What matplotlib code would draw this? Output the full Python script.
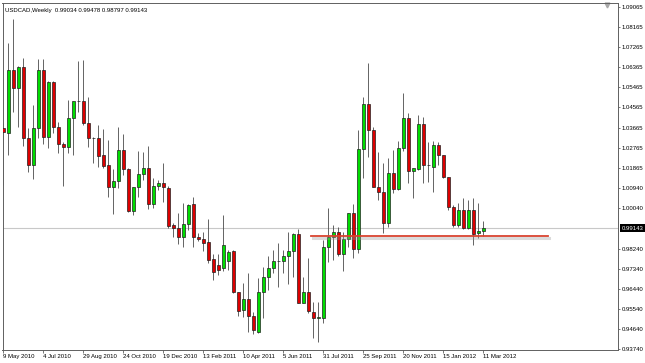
import numpy as np
import matplotlib.pyplot as plt
from matplotlib import patheffects

plt.rcParams['font.family'] = ['Liberation Sans', 'DejaVu Sans']

# weekly USDCAD candles, 9 May 2010 .. 11 Mar 2012
opens = [
    1.0364, 1.0343, 1.0624, 1.0544, 1.0638, 1.0320, 1.0199, 1.0364, 1.0624, 1.0324,
    1.0571, 1.0369, 1.0293, 1.0279, 1.0409, 1.0485, 1.0485, 1.0387, 1.0320, 1.0320,
    1.0243, 1.0199, 1.0100, 1.0127, 1.0266, 1.0181, 0.9992, 1.0100, 1.0158, 1.0185,
    1.0024, 1.0104, 1.0118, 1.0096, 0.9930, 0.9916, 0.9876, 0.9934, 1.0024, 0.9876,
    0.9867, 0.9853, 0.9777, 0.9750, 0.9737, 0.9768, 0.9813, 0.9629, 0.9549, 0.9598,
    0.9522, 0.9450, 0.9629, 0.9697, 0.9737, 0.9768, 0.9768, 0.9791, 0.9813, 0.9889,
    0.9580, 0.9629, 0.9540, 0.9513, 0.9513, 0.9831, 0.9876, 0.9898, 0.9800, 0.9867,
    0.9983, 0.9822, 1.0270, 1.0472, 1.0355, 1.0100, 1.0078, 0.9939, 1.0163, 1.0091,
    1.0275, 1.0409, 1.0172, 1.0181, 1.0382, 1.0199, 1.0190, 1.0288, 1.0243, 1.0145,
    1.0010, 0.9930, 0.9997, 0.9916, 0.9997, 0.9894, 0.99034]
highs = [
    1.0387, 1.0747, 1.0853, 1.0642, 1.0678, 1.0364, 1.0467, 1.0674, 1.0674, 1.0575,
    1.0575, 1.0391, 1.0302, 1.0490, 1.0487, 1.0665, 1.0669, 1.0503, 1.0322, 1.0378,
    1.0360, 1.0311, 1.0181, 1.0369, 1.0337, 1.0183, 1.0102, 1.0261, 1.0257, 1.0284,
    1.0140, 1.0131, 1.0208, 1.0104, 0.9939, 0.9983, 1.0028, 1.0024, 1.0055, 0.9894,
    0.9898, 0.9957, 0.9800, 0.9800, 0.9974, 0.9818, 0.9818, 0.9631, 0.9670, 0.9715,
    0.9540, 0.9692, 0.9741, 0.9791, 0.9818, 0.9849, 0.9818, 0.9898, 0.9894, 0.9912,
    0.9697, 0.9782, 0.9585, 0.9585, 0.9862, 1.0006, 0.9930, 0.9921, 0.9898, 0.9985,
    1.0024, 1.0355, 1.0503, 1.0656, 1.0369, 1.0257, 1.0208, 1.0230, 1.0266, 1.0306,
    1.0521, 1.0432, 1.0187, 1.0423, 1.0414, 1.0302, 1.0306, 1.0302, 1.0245, 1.0147,
    1.0019, 1.0028, 1.0051, 1.0042, 1.0051, 1.0028, 0.99478]
lows = [
    1.0109, 1.0243, 1.0436, 1.0369, 1.0284, 1.0167, 1.0136, 1.0320, 1.0293, 1.0275,
    1.0342, 1.0252, 1.0104, 1.0252, 1.0243, 1.0436, 1.0378, 1.0279, 1.0208, 1.0190,
    1.0185, 1.0055, 0.9979, 1.0096, 1.0154, 0.9988, 0.9974, 1.0055, 1.0131, 1.0001,
    1.0006, 1.0087, 1.0033, 0.9916, 0.9876, 0.9845, 0.9831, 0.9907, 0.9831, 0.9858,
    0.9813, 0.9759, 0.9683, 0.9706, 0.9724, 0.9728, 0.9625, 0.9522, 0.9517, 0.9450,
    0.9441, 0.9446, 0.9513, 0.9638, 0.9715, 0.9652, 0.9715, 0.9665, 0.9697, 0.9578,
    0.9578, 0.9535, 0.9423, 0.9405, 0.9491, 0.9764, 0.9773, 0.9791, 0.9724, 0.9831,
    0.9782, 0.9804, 1.0140, 1.0234, 1.0098, 1.0042, 0.9894, 0.9921, 1.0073, 1.0087,
    1.0261, 1.0118, 1.0051, 1.0176, 1.0118, 1.0122, 1.0078, 1.0199, 1.0140, 0.9997,
    0.9921, 0.9921, 0.9912, 0.9912, 0.9840, 0.9871, 0.98797]
closes = [
    1.0346, 1.0624, 1.0544, 1.0638, 1.0320, 1.0199, 1.0364, 1.0624, 1.0324, 1.0571,
    1.0369, 1.0293, 1.0279, 1.0409, 1.0485, 1.0487, 1.0387, 1.0320, 1.0318, 1.0239,
    1.0194, 1.0100, 1.0127, 1.0266, 1.0181, 0.9992, 1.0100, 1.0158, 1.0185, 1.0024,
    1.0104, 1.0118, 1.0100, 0.9925, 0.9916, 0.9876, 0.9934, 1.0019, 0.9876, 0.9867,
    0.9849, 0.9773, 0.9719, 0.9728, 0.9840, 0.9809, 0.9629, 0.9544, 0.9598, 0.9522,
    0.9459, 0.9629, 0.9697, 0.9737, 0.9768, 0.9768, 0.9791, 0.9813, 0.9889, 0.9580,
    0.9629, 0.9544, 0.9513, 0.9517, 0.9831, 0.9876, 0.9898, 0.9800, 0.9867, 0.9983,
    0.9822, 1.0270, 1.0472, 1.0355, 1.0100, 1.0078, 0.9939, 1.0163, 1.0091, 1.0275,
    1.0409, 1.0172, 1.0185, 1.0382, 1.0199, 1.0199, 1.0288, 1.0243, 1.0145, 1.0010,
    0.9930, 0.9997, 0.9916, 0.9997, 0.9889, 0.9903, 0.99143]

date_labels = ['9 May 2010', '4 Jul 2010', '29 Aug 2010', '24 Oct 2010', '19 Dec 2010',
               '13 Feb 2011', '10 Apr 2011', '5 Jun 2011', '31 Jul 2011', '25 Sep 2011',
               '20 Nov 2011', '15 Jan 2012', '11 Mar 2012']
price_ticks = [1.09065, 1.08165, 1.07265, 1.06365, 1.05465, 1.04565, 1.03665, 1.02765,
               1.01865, 1.00940, 1.00040, 0.98240, 0.97340, 0.96440, 0.95540, 0.94640, 0.93740]
last_price = 0.99143
support_level = 0.9880
support_from, support_to = 61.6, 108.9   # in weeks

o = np.array(opens)
c = np.array(closes)
x = np.arange(len(o))
up = c >= o

fig = plt.figure(figsize=(6.45, 3.63), dpi=100)
ax = fig.add_axes([2.5 / 645, 13 / 363, 615.5 / 645, 347 / 363])

ax.axhline(last_price, color='#c8c8c8', lw=0.8, zorder=1)
ax.vlines(x, lows, highs, color='#4a4a4a', lw=0.6, zorder=2)
ax.bar(x, np.abs(c - o), bottom=np.minimum(o, c), width=0.6,
       color=np.where(up, '#00dd00', '#dd0000'), edgecolor='#202020', linewidth=0.5, zorder=3)

# hand drawn support line with its drop shadow
ax.plot([support_from, support_to], [support_level, support_level], color='#d9432f', lw=1.3, zorder=4,
        path_effects=[patheffects.SimpleLineShadow(offset=(1.2, -1.3), shadow_color='#999999', alpha=0.35, linewidth=2.2),
                      patheffects.Normal()])

ax.set_xlim(-0.16, 122.94)
ax.set_ylim(0.93695, 1.09245)

ax.yaxis.tick_right()
ax.set_yticks(price_ticks)
ax.set_yticklabels([f'{p:.5f}' for p in price_ticks])
ax.tick_params(axis='y', direction='out', length=1.5, width=0.5, pad=1, labelsize=4.3, color='#404040')

ax.set_xticks(np.arange(0, len(o), 8))
ax.set_xticklabels(date_labels)
plt.setp(ax.get_xticklabels(), ha='left')
ax.tick_params(axis='x', direction='out', length=2, width=0.5, pad=1, labelsize=4.3, color='#404040')

for s in ax.spines.values():
    s.set_color('#606060')
    s.set_linewidth(0.7)

ax.annotate(f'{last_price:.5f}', xy=(1, last_price), xycoords=ax.get_yaxis_transform(),
            xytext=(2.5, 0), textcoords='offset points', ha='left', va='center',
            fontsize=4.3, color='white', annotation_clip=False,
            bbox=dict(boxstyle='square,pad=0.25', fc='black', ec='none'))

ax.text(0.004, 0.985, 'USDCAD,Weekly  0.99034 0.99478 0.98797 0.99143',
        transform=ax.transAxes, fontsize=4.3, va='top', ha='left')

# chart shift marker, top right
ax.plot([0.982], [0.994], marker='v', ms=3.5, color='#a8a8a8', transform=ax.transAxes, clip_on=False)

fig.savefig('out.png', dpi=100)
